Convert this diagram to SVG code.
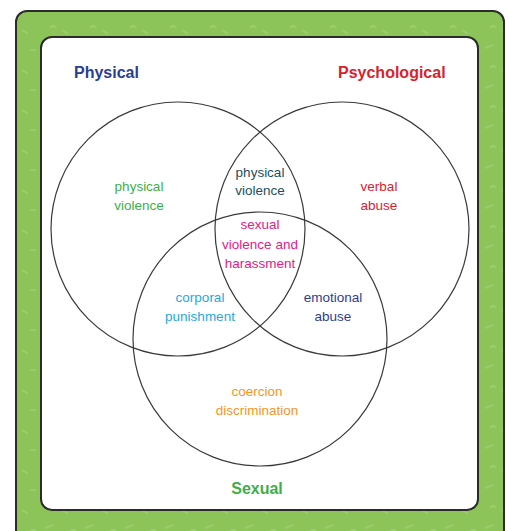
<svg xmlns="http://www.w3.org/2000/svg" width="509" height="531" viewBox="0 0 509 531">
<style>
.frame{fill:#8dc45a;stroke:#2b2b2b;stroke-width:2}
.panel{fill:#ffffff;stroke:#2b2b2b;stroke-width:2}
.set{fill:none;stroke:#3a3a3a;stroke-width:1.2}
.title{font-family:"Liberation Sans",Arial,sans-serif;font-weight:bold;font-size:16px}
.lbl{font-family:"Liberation Sans",Arial,sans-serif;font-size:13.5px;text-anchor:middle}
</style>
<defs>
<pattern id="tex" width="40" height="40" patternUnits="userSpaceOnUse">
<rect width="40" height="40" fill="#8dc45a"/>
<path d="M5 8 l8 -3 M22 30 l6 4 M30 10 h6 M10 28 q3 -4 6 0" stroke="#a3d277" stroke-width="2" fill="none" opacity="0.6"/>
</pattern>
</defs>
<g id="background">
<rect class="frame" x="16" y="11" width="488" height="540" rx="11" fill="url(#tex)" style="fill:url(#tex)"/>
<rect class="panel" x="41" y="37" width="437" height="473" rx="11"/>
</g>
<g id="connectors"></g>
<g id="physical">
<circle class="set" cx="178" cy="229" r="127"/>
<text class="title" x="74" y="78" fill="#2a3f93">Physical</text>
<text class="lbl" fill="#3bb04a"><tspan x="139" y="191">physical</tspan><tspan x="139" y="210">violence</tspan></text>
</g>
<g id="psychological">
<circle class="set" cx="342" cy="229" r="127"/>
<text class="title" x="338" y="78" fill="#d7232e">Psychological</text>
<text class="lbl" fill="#d7232e"><tspan x="379" y="191">verbal</tspan><tspan x="379" y="210">abuse</tspan></text>
</g>
<g id="sexual">
<circle class="set" cx="260" cy="339" r="127"/>
<text class="title" x="257" y="494" fill="#3fae49" text-anchor="middle">Sexual</text>
<text class="lbl" fill="#f7941d"><tspan x="257" y="396">coercion</tspan><tspan x="257" y="415">discrimination</tspan></text>
</g>
<g id="physical-psychological">
<text class="lbl" fill="#1d4e60"><tspan x="260" y="177">physical</tspan><tspan x="260" y="195">violence</tspan></text>
</g>
<g id="all-three">
<text class="lbl" fill="#e5198b"><tspan x="260" y="229">sexual</tspan><tspan x="260" y="249">violence and</tspan><tspan x="260" y="268">harassment</tspan></text>
</g>
<g id="physical-sexual">
<text class="lbl" fill="#1eaae1"><tspan x="200" y="302">corporal</tspan><tspan x="200" y="321">punishment</tspan></text>
</g>
<g id="psychological-sexual">
<text class="lbl" fill="#2e3d8f"><tspan x="333" y="302">emotional</tspan><tspan x="333" y="321">abuse</tspan></text>
</g>
</svg>
